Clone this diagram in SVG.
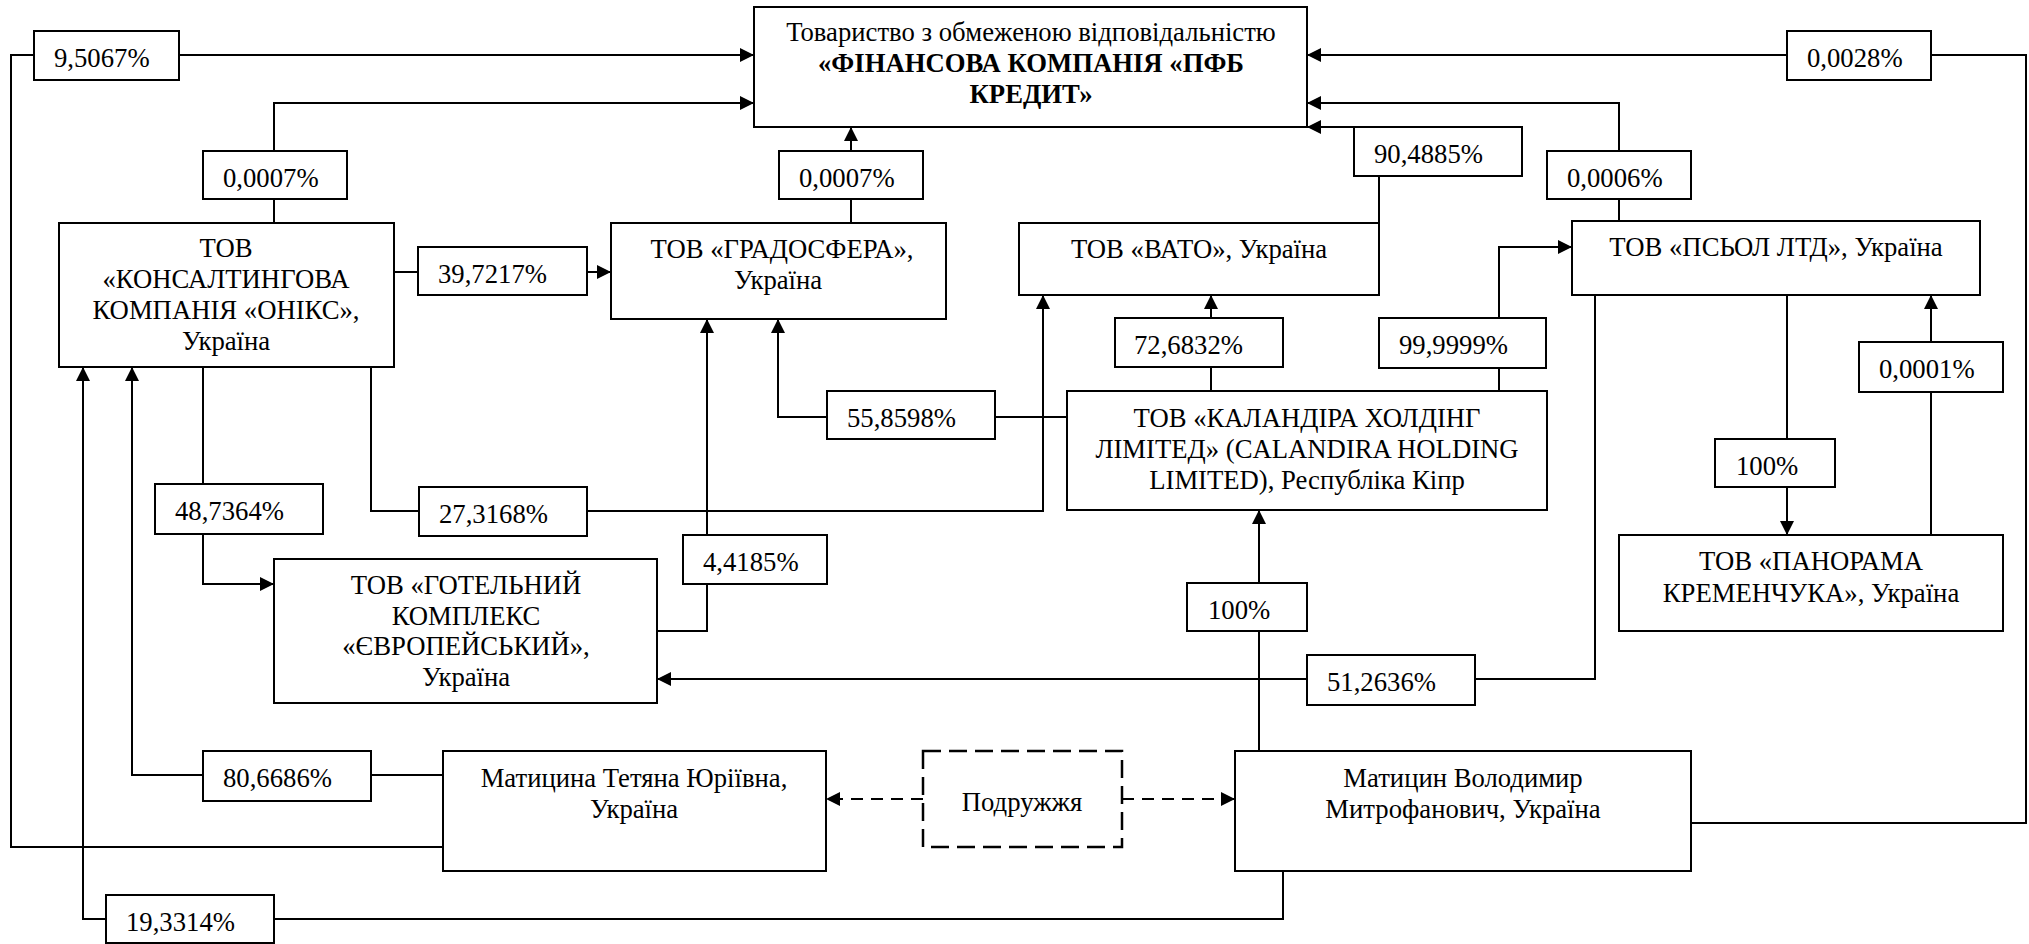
<svg xmlns="http://www.w3.org/2000/svg" width="2029" height="944" viewBox="0 0 2029 944">
<style>
.box{fill:#fff;stroke:#000;stroke-width:2}
.lbl{fill:#fff;stroke:#000;stroke-width:2}
.t{font-family:"Liberation Serif","Times New Roman",serif;font-size:26.7px;fill:#000}
.c{text-anchor:middle}
.b{font-weight:bold}
.ln{fill:none;stroke:#000;stroke-width:2;marker-end:url(#ah)}
.dl{fill:none;stroke:#000;stroke-width:2;stroke-dasharray:12 8;marker-end:url(#ah)}
.dbox{fill:#fff;stroke:#000;stroke-width:2.5;stroke-dasharray:18 8}
</style>
<defs>
<marker id="ah" markerUnits="userSpaceOnUse" markerWidth="14" markerHeight="14" refX="14" refY="7" orient="auto">
<path d="M0,0 L14,7 L0,14 z" fill="#000"/>
</marker>
</defs>
<rect width="2029" height="944" fill="#fff"/>
<g id="connectors">
<path class="ln" d="M443,847 H11 V55 H754"/>
<path class="ln" d="M274,223 V103 H754"/>
<path class="ln" d="M851,223 V127"/>
<path class="ln" d="M394,272 H611"/>
<path class="ln" d="M1379,223 V127 H1307"/>
<path class="ln" d="M1619,221 V103 H1307"/>
<path class="ln" d="M1691,823 H2026 V55 H1307"/>
<path class="ln" d="M1211,391 V295"/>
<path class="ln" d="M1499,391 V247 H1572"/>
<path class="ln" d="M1931,535 V295"/>
<path class="ln" d="M1787,295 V535"/>
<path class="ln" d="M1595,295 V679 H657"/>
<path class="ln" d="M1067,417 H778 V319"/>
<path class="ln" d="M371,367 V511 H1043 V295"/>
<path class="ln" d="M203,367 V584 H274"/>
<path class="ln" d="M657,631 H707 V319"/>
<path class="ln" d="M443,775 H132 V367"/>
<path class="ln" d="M1283,871 V919 H83 V367"/>
<path class="ln" d="M1259,751 V510"/>
<path class="dl" d="M923,799 H826"/>
<path class="dl" d="M1122,799 H1235"/>
</g>
<g id="labels">
<g id="l1"><rect class="lbl" x="34" y="31" width="145" height="49"/><text class="t" x="54" y="67">9,5067%</text></g>
<g id="l2"><rect class="lbl" x="203" y="151" width="144" height="48"/><text class="t" x="223" y="187">0,0007%</text></g>
<g id="l3"><rect class="lbl" x="779" y="151" width="144" height="48"/><text class="t" x="799" y="187">0,0007%</text></g>
<g id="l4"><rect class="lbl" x="418" y="247" width="169" height="48"/><text class="t" x="438" y="283">39,7217%</text></g>
<g id="l5"><rect class="lbl" x="1354" y="127" width="168" height="49"/><text class="t" x="1374" y="163">90,4885%</text></g>
<g id="l6"><rect class="lbl" x="1547" y="151" width="144" height="48"/><text class="t" x="1567" y="187">0,0006%</text></g>
<g id="l7"><rect class="lbl" x="1787" y="31" width="144" height="49"/><text class="t" x="1807" y="67">0,0028%</text></g>
<g id="l8"><rect class="lbl" x="1115" y="318" width="168" height="49"/><text class="t" x="1134" y="354">72,6832%</text></g>
<g id="l9"><rect class="lbl" x="1379" y="318" width="167" height="50"/><text class="t" x="1399" y="354">99,9999%</text></g>
<g id="l10"><rect class="lbl" x="1859" y="342" width="144" height="50"/><text class="t" x="1879" y="378">0,0001%</text></g>
<g id="l11"><rect class="lbl" x="827" y="391" width="168" height="48"/><text class="t" x="847" y="427">55,8598%</text></g>
<g id="l12"><rect class="lbl" x="155" y="484" width="168" height="50"/><text class="t" x="175" y="520">48,7364%</text></g>
<g id="l13"><rect class="lbl" x="419" y="487" width="168" height="49"/><text class="t" x="439" y="523">27,3168%</text></g>
<g id="l14"><rect class="lbl" x="683" y="535" width="144" height="49"/><text class="t" x="703" y="571">4,4185%</text></g>
<g id="l15"><rect class="lbl" x="1715" y="439" width="120" height="48"/><text class="t" x="1736" y="475">100%</text></g>
<g id="l16"><rect class="lbl" x="1187" y="583" width="120" height="48"/><text class="t" x="1208" y="619">100%</text></g>
<g id="l17"><rect class="lbl" x="1307" y="655" width="168" height="50"/><text class="t" x="1327" y="691">51,2636%</text></g>
<g id="l18"><rect class="lbl" x="203" y="751" width="168" height="50"/><text class="t" x="223" y="787">80,6686%</text></g>
<g id="l19"><rect class="lbl" x="106" y="895" width="168" height="48"/><text class="t" x="126" y="931">19,3314%</text></g>
</g>
<g id="main"><rect class="box" x="754" y="7" width="553" height="120"/>
<text class="t c" x="1031" y="41">Товариство з обмеженою відповідальністю</text>
<text class="t c b" x="1031" y="72">«ФІНАНСОВА КОМПАНІЯ «ПФБ</text>
<text class="t c b" x="1031" y="103">КРЕДИТ»</text></g>
<g id="oniks"><rect class="box" x="59" y="223" width="335" height="144"/>
<text class="t c" x="226" y="257">ТОВ</text>
<text class="t c" x="226" y="288">«КОНСАЛТИНГОВА</text>
<text class="t c" x="226" y="319">КОМПАНІЯ «ОНІКС»,</text>
<text class="t c" x="226" y="350">Україна</text></g>
<g id="gradosfera"><rect class="box" x="611" y="223" width="335" height="96"/>
<text class="t c" x="782" y="258">ТОВ «ГРАДОСФЕРА»,</text>
<text class="t c" x="778" y="289">Україна</text></g>
<g id="vato"><rect class="box" x="1019" y="223" width="360" height="72"/>
<text class="t c" x="1199" y="258">ТОВ «ВАТО», Україна</text></g>
<g id="psyol"><rect class="box" x="1572" y="221" width="408" height="74"/>
<text class="t c" x="1776" y="256">ТОВ «ПСЬОЛ ЛТД», Україна</text></g>
<g id="calandira"><rect class="box" x="1067" y="391" width="480" height="119"/>
<text class="t c" x="1307" y="427">ТОВ «КАЛАНДІРА ХОЛДІНГ</text>
<text class="t c" x="1307" y="458">ЛІМІТЕД» (CALANDIRA HOLDING</text>
<text class="t c" x="1307" y="489">LIMITED), Республіка Кіпр</text></g>
<g id="hotel"><rect class="box" x="274" y="559" width="383" height="144"/>
<text class="t c" x="466" y="594">ТОВ «ГОТЕЛЬНИЙ</text>
<text class="t c" x="466" y="625">КОМПЛЕКС</text>
<text class="t c" x="466" y="655">«ЄВРОПЕЙСЬКИЙ»,</text>
<text class="t c" x="466" y="686">Україна</text></g>
<g id="panorama"><rect class="box" x="1619" y="535" width="384" height="96"/>
<text class="t c" x="1811" y="570">ТОВ «ПАНОРАМА</text>
<text class="t c" x="1811" y="602">КРЕМЕНЧУКА», Україна</text></g>
<g id="matytsyna"><rect class="box" x="443" y="751" width="383" height="120"/>
<text class="t c" x="634" y="787">Матицина Тетяна Юріївна,</text>
<text class="t c" x="634" y="818">Україна</text></g>
<g id="podruzhzhya"><rect class="dbox" x="923" y="751" width="199" height="96"/>
<text class="t c" x="1022" y="811">Подружжя</text></g>
<g id="matytsyn"><rect class="box" x="1235" y="751" width="456" height="120"/>
<text class="t c" x="1463" y="787">Матицин Володимир</text>
<text class="t c" x="1463" y="818">Митрофанович, Україна</text></g>
</svg>
